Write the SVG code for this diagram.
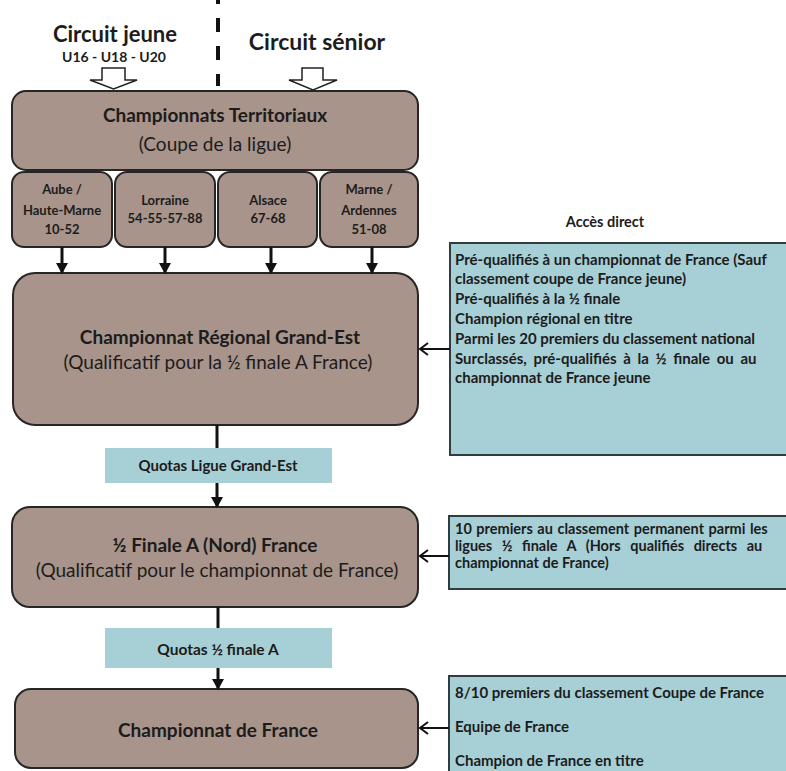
<svg xmlns="http://www.w3.org/2000/svg" width="786" height="771" viewBox="0 0 786 771">
<style>
.b{fill:#a8948a;stroke:#262626;stroke-width:2}
.q{fill:#a7cfd6}
.a{fill:#a7cfd6;stroke:#2f3c40;stroke-width:2}
text{font-family:Lato,"Open Sans","Liberation Sans",sans-serif;fill:#1c1c1c}
.t{font-size:19px;font-weight:bold;text-anchor:middle}
.s{font-size:19px;text-anchor:middle}
.m{font-size:13px;font-weight:bold;text-anchor:middle}
.r{font-size:15px;font-weight:bold}
.r2{font-size:14.5px;font-weight:bold}
.c{stroke:#111;stroke-width:3;fill:none}
.l{stroke:#111;stroke-width:2;fill:none}
.h{fill:#fff;stroke:#222;stroke-width:1.5}
</style>
<defs>
<marker id="ad" markerWidth="11" markerHeight="12" refX="9" refY="6" orient="auto" markerUnits="userSpaceOnUse" viewBox="0 0 11 12">
<path d="M0,0 L11,6 L0,12 Z" fill="#111"/>
</marker>
<marker id="al" markerWidth="12" markerHeight="14" refX="10" refY="7" orient="auto" markerUnits="userSpaceOnUse" viewBox="0 0 12 14">
<path d="M2,1 L10,7 L2,13" fill="none" stroke="#111" stroke-width="2"/>
</marker>
</defs>

<g id="header">
<text x="115" y="42" style="font-size:22px;font-weight:bold;text-anchor:middle">Circuit jeune</text>
<text x="114" y="62" style="font-size:14px;font-weight:bold;text-anchor:middle">U16 - U18 - U20</text>
<text x="317" y="50" style="font-size:23px;font-weight:bold;text-anchor:middle">Circuit sénior</text>
<line x1="218" y1="-1" x2="218" y2="86" stroke="#111" stroke-width="4" stroke-dasharray="14 14" stroke-dashoffset="9"/>
<path class="h" d="M102,68 H125 V80 H137 L113.5,89 L90,80 H102 Z"/>
<path class="h" d="M302,68 H323 V80 H337 L313,90 L289,80 H302 Z"/>
</g>

<g id="territoriaux">
<rect class="b" x="12" y="91" width="406" height="79" rx="14"/>
<text class="t" x="215" y="122">Championnats Territoriaux</text>
<text class="s" x="215" y="151">(Coupe de la ligue)</text>
</g>
<g id="aube">
<rect class="b" x="12" y="172" width="100" height="75" rx="12"/>
<text class="m" x="62" y="194">Aube /</text>
<text class="m" x="62" y="215">Haute-Marne</text>
<text class="m" x="62" y="234">10-52</text>
</g>
<g id="lorraine">
<rect class="b" x="115" y="172" width="100" height="75" rx="12"/>
<text class="m" x="165" y="205">Lorraine</text>
<text class="m" x="165" y="223">54-55-57-88</text>
</g>
<g id="alsace">
<rect class="b" x="218" y="172" width="99" height="75" rx="12"/>
<text class="m" x="268" y="205">Alsace</text>
<text class="m" x="268" y="223">67-68</text>
</g>
<g id="marne">
<rect class="b" x="320" y="172" width="98" height="75" rx="12"/>
<text class="m" x="369" y="194">Marne /</text>
<text class="m" x="369" y="215">Ardennes</text>
<text class="m" x="369" y="234">51-08</text>
</g>

<g id="regional">
<rect class="b" x="13" y="273" width="405" height="152" rx="22"/>
<text class="t" x="220" y="344">Championnat Régional Grand-Est</text>
<text class="s" x="218" y="369">(Qualificatif pour la ½ finale A France)</text>
</g>
<g id="quota1">
<rect class="q" x="105" y="448" width="227" height="35"/>
<text class="m" x="218" y="471" style="font-size:15px">Quotas Ligue Grand-Est</text>
</g>
<g id="demi">
<rect class="b" x="12" y="507" width="406" height="100" rx="18"/>
<text class="t" x="215" y="552">½ Finale A (Nord) France</text>
<text class="s" x="217" y="577">(Qualificatif pour le championnat de France)</text>
</g>
<g id="quota2">
<rect class="q" x="105" y="628" width="227" height="40"/>
<text class="m" x="218" y="655" style="font-size:15.5px">Quotas ½ finale A</text>
</g>
<g id="france">
<rect class="b" x="15" y="689" width="403" height="79" rx="16"/>
<text class="t" x="218" y="737">Championnat de France</text>
</g>

<g id="acces-title">
<text x="605" y="227" style="font-size:14.5px;font-weight:bold;text-anchor:middle">Accès direct</text>
</g>
<g id="acces1">
<rect class="a" x="450" y="243" width="345" height="212"/>
<text class="r" x="455" y="265">Pré-qualifiés à un championnat de France (Sauf</text>
<text class="r" x="455" y="284">classement coupe de France jeune)</text>
<text class="r" x="455" y="304">Pré-qualifiés à la ½ finale</text>
<text class="r" x="455" y="324">Champion régional en titre</text>
<text class="r" x="455" y="344">Parmi les 20 premiers du classement national</text>
<text class="r" x="455" y="364" style="word-spacing:3px">Surclassés, pré-qualifiés à la ½ finale ou au</text>
<text class="r" x="455" y="383">championnat de France jeune</text>
</g>
<g id="acces2">
<rect class="a" x="449" y="516" width="346" height="73"/>
<text class="r2" x="455" y="534" style="word-spacing:1px">10 premiers au classement permanent parmi les</text>
<text class="r2" x="455" y="551" style="word-spacing:6px">ligues ½ finale A (Hors qualifiés directs au</text>
<text class="r2" x="455" y="568">championnat de France)</text>
</g>
<g id="acces3">
<rect class="a" x="449" y="676" width="346" height="100"/>
<text class="r" x="455" y="698">8/10 premiers du classement Coupe de France</text>
<text class="r" x="455" y="732">Equipe de France</text>
<text class="r" x="455" y="766">Champion de France en titre</text>
</g>

<g id="connectors">
<line class="c" x1="62" y1="247" x2="62" y2="272" marker-end="url(#ad)"/>
<line class="c" x1="165" y1="247" x2="165" y2="272" marker-end="url(#ad)"/>
<line class="c" x1="271" y1="247" x2="271" y2="272" marker-end="url(#ad)"/>
<line class="c" x1="372" y1="247" x2="372" y2="272" marker-end="url(#ad)"/>
<line class="c" x1="217" y1="425" x2="217" y2="448"/>
<line class="c" x1="217" y1="483" x2="217" y2="506" marker-end="url(#ad)"/>
<line class="c" x1="218" y1="607" x2="218" y2="628"/>
<line class="c" x1="218" y1="668" x2="218" y2="688" marker-end="url(#ad)"/>
<line class="l" x1="450" y1="349" x2="420" y2="349" marker-end="url(#al)"/>
<line class="l" x1="449" y1="556" x2="420" y2="556" marker-end="url(#al)"/>
<line class="l" x1="449" y1="728" x2="420" y2="728" marker-end="url(#al)"/>
</g>
</svg>
